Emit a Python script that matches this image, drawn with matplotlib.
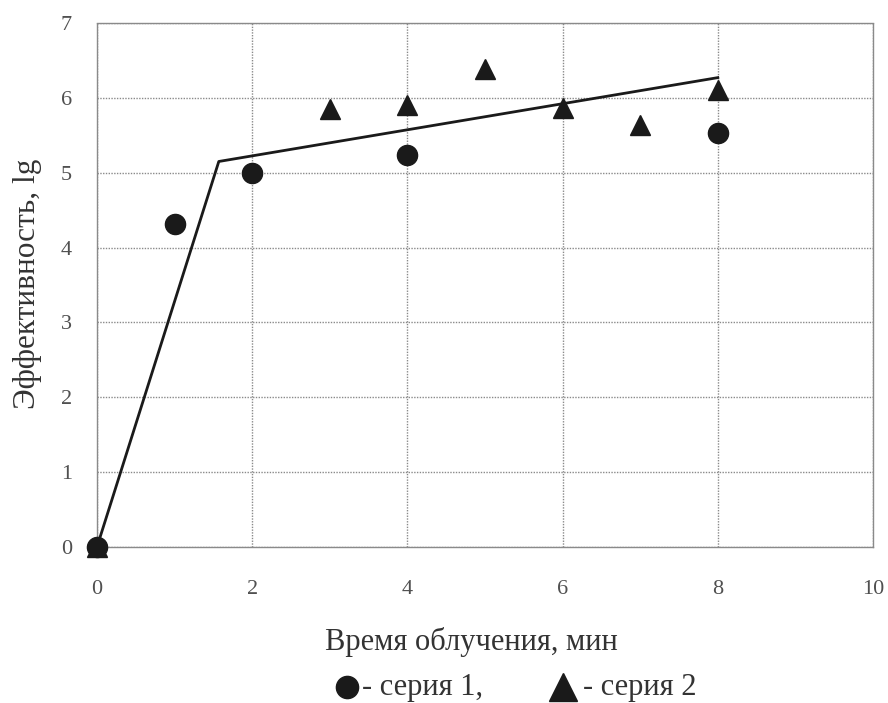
import matplotlib
matplotlib.use("Agg")
import matplotlib.pyplot as plt
from matplotlib.lines import Line2D

# Measured efficiency for two irradiation series
series1_time = [0, 1, 2, 4, 8]
series1_eff = [0.0, 4.31, 4.99, 5.24, 5.53]

series2_time = [0, 3, 4, 5, 6, 7, 8]
series2_eff = [0.0, 5.85, 5.90, 6.39, 5.86, 5.64, 6.11]

# Piecewise-linear approximation
fit_time = [0, 1.57, 8]
fit_eff = [0.0, 5.15, 6.27]

x_ticks = [0, 2, 4, 6, 8, 10]
y_ticks = [0, 1, 2, 3, 4, 5, 6, 7]

serif = ["Liberation Serif", "DejaVu Serif"]

fig = plt.figure(figsize=(8.88, 7.03), dpi=100)
ax = fig.add_axes([0.1092, 0.2219, 0.8739, 0.7454])

ax.plot(fit_time, fit_eff, color="#1a1a1a", lw=2.0, zorder=3)
ax.plot(series1_time, series1_eff, "o", color="#1a1a1a", ms=14.5, zorder=4,
        clip_on=False)
ax.plot(series2_time, series2_eff, "^", color="#1a1a1a", ms=15, zorder=4,
        clip_on=False)

ax.set_xlim(0, 10)
ax.set_ylim(0, 7)
ax.set_xticks(x_ticks)
ax.set_yticks(y_ticks)
ax.grid(True, color="#8a8a8a", lw=1.0, ls=(0, (1, 1)))
ax.set_axisbelow(True)
for s in ax.spines.values():
    s.set_color("#8a8a8a")
    s.set_linestyle((0, (1, 1)))
    s.set_linewidth(1.0)
ax.tick_params(length=0, colors="#505050", labelsize=16)
for lab in ax.get_xticklabels() + ax.get_yticklabels():
    lab.set_family(serif)
ax.tick_params(axis="x", pad=24)
ax.tick_params(axis="y", pad=18)

fig.text(0.031, 0.596, "Эффективность, lg", rotation=90, ha="center",
         va="center", fontsize=22.5, family=serif, color="#333333")
fig.text(0.531, 0.087, "Время облучения, мин", ha="center", va="center",
         fontsize=22, family=serif, color="#333333")

# Marker key under the axis title
fig.add_artist(Line2D([0.391], [0.0225], marker="o", ms=16, color="#1a1a1a",
                      transform=fig.transFigure, ls="none"))
fig.text(0.408, 0.0225, "- серия 1,", ha="left", va="center", fontsize=22,
         family=serif, color="#333333")
fig.add_artist(Line2D([0.634], [0.0225], marker="^", ms=20, color="#1a1a1a",
                      transform=fig.transFigure, ls="none"))
fig.text(0.656, 0.0225, "- серия 2", ha="left", va="center", fontsize=22,
         family=serif, color="#333333")

fig.savefig("out.png", dpi=100)
